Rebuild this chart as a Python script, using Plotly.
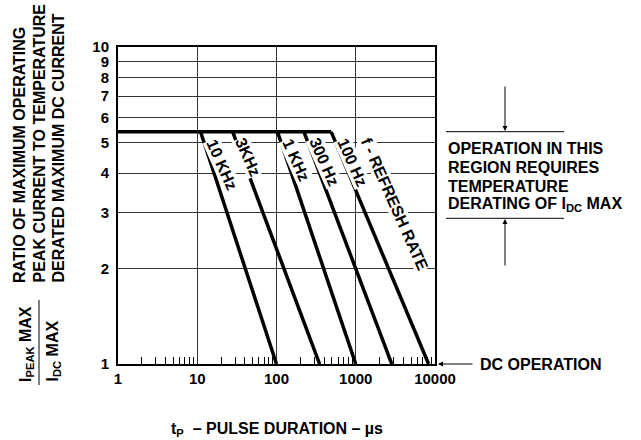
import math
import plotly.graph_objects as go

# ---- data ----
X_TICKS = [1, 10, 100, 1000, 10000]
X_TICK_TEXT = ["1", "10", "100", "1000", "10000"]
Y_TICKS = [1, 2, 3, 4, 5, 6, 7, 8, 9, 10]
Y_TICK_TEXT = ["1", "2", "3", "4", "5", "6", "7", "8", "9", "10"]
MINOR_TICKS = [m * 10 ** d for d in range(4) for m in range(2, 10)]

PLATEAU_RATIO = 5.4
PLATEAU_X = [1, 490]
FREQ_LABELS = ["10 KHz", "3KHz", "1 KHz", "300 Hz", "100 Hz"]
LINE_START_T = [11, 28, 103, 222, 490]      # pulse duration where derating begins (µs)
LINE_END_T = [100, 350, 1000, 2850, 8300]   # pulse duration reaching ratio 1 (µs)
LABEL_T = [20.3, 44.2, 174.6, 398, 906]
LABEL_R = [4.25, 4.49, 4.41, 4.35, 4.32]

FONT = "Liberation Sans, Arial, sans-serif"

# plot area in pixels (for paper-coordinate helpers)
L, R, T, B = 118, 435, 47, 364
W_, H_ = R - L, B - T


def px(x):
    return (x - L) / W_


def py(y):
    return (B - y) / H_


fig = go.Figure()

fig.add_trace(go.Scatter(x=PLATEAU_X, y=[PLATEAU_RATIO, PLATEAU_RATIO], mode="lines",
                         line=dict(color="black", width=3.5), showlegend=False,
                         cliponaxis=False))
for s, e in zip(LINE_START_T, LINE_END_T):
    fig.add_trace(go.Scatter(x=[s, e], y=[PLATEAU_RATIO, 1], mode="lines",
                             line=dict(color="black", width=3.5), showlegend=False))

annotations = []
for lab, xt, yr in zip(FREQ_LABELS, LABEL_T, LABEL_R):
    annotations.append(dict(x=math.log10(xt), y=math.log10(yr), xref="x", yref="y",
                            text=lab, showarrow=False, textangle=66,
                            font=dict(family=FONT, size=16, color="black", weight="bold"),
                            bgcolor="white", borderpad=0))
annotations.append(dict(x=math.log10(3041), y=math.log10(3.2), xref="x", yref="y",
                        text="f - REFRESH RATE", showarrow=False, textangle=66,
                        font=dict(family=FONT, size=16, color="black", weight="bold"),
                        bgcolor="white", borderpad=0))

# right-hand region text
right_lines = ["OPERATION IN THIS", "REGION REQUIRES", "TEMPERATURE",
               "DERATING OF I<sub>DC</sub> MAX"]
right_y = [148, 167, 186, 204]
for t, yy in zip(right_lines, right_y):
    annotations.append(dict(x=px(446), y=py(yy), xref="paper", yref="paper", text=t,
                            showarrow=False, xanchor="left", yanchor="middle",
                            font=dict(family=FONT, size=16, color="black", weight="bold")))

# arrows for region
annotations.append(dict(x=px(505), y=py(131), xref="paper", yref="paper", text="",
                        showarrow=True, ax=0, ay=-46, arrowhead=2, arrowsize=1,
                        arrowwidth=1, arrowcolor="black"))
annotations.append(dict(x=px(505), y=py(219), xref="paper", yref="paper", text="",
                        showarrow=True, ax=0, ay=48, arrowhead=2, arrowsize=1,
                        arrowwidth=1, arrowcolor="black"))

# DC operation
annotations.append(dict(x=px(438), y=py(364), xref="paper", yref="paper", text="",
                        showarrow=True, ax=36, ay=0, arrowhead=2, arrowsize=1,
                        arrowwidth=1, arrowcolor="black"))
annotations.append(dict(x=px(478), y=py(364), xref="paper", yref="paper",
                        text="DC OPERATION", showarrow=False, xanchor="left",
                        yanchor="middle",
                        font=dict(family=FONT, size=16, color="black", weight="bold")))

# x title
annotations.append(dict(x=0.5, y=py(429), xref="paper", yref="paper",
                        text="t<sub>P</sub>  – PULSE DURATION – µs", showarrow=False,
                        xanchor="center", yanchor="middle",
                        font=dict(family=FONT, size=16, color="black", weight="bold")))

# y title (three rotated lines)
ytitle = ["RATIO OF MAXIMUM OPERATING", "PEAK CURRENT TO TEMPERATURE",
          "DERATED MAXIMUM DC CURRENT"]
ytitle_x = [19, 39, 58]
for t, xx in zip(ytitle, ytitle_x):
    annotations.append(dict(x=px(xx), y=py(285), xref="paper", yref="paper", text=t,
                            showarrow=False, textangle=-90, xanchor="center",
                            yanchor="bottom",
                            font=dict(family=FONT, size=16, color="black", weight="bold")))

# fraction
annotations.append(dict(x=px(26), y=py(384), xref="paper", yref="paper",
                        text="I<sub>PEAK</sub> MAX", showarrow=False, textangle=-90,
                        xanchor="center", yanchor="bottom",
                        font=dict(family=FONT, size=16, color="black", weight="bold")))
annotations.append(dict(x=px(53), y=py(384), xref="paper", yref="paper",
                        text="I<sub>DC</sub> MAX", showarrow=False, textangle=-90,
                        xanchor="center", yanchor="bottom",
                        font=dict(family=FONT, size=16, color="black", weight="bold")))

shapes = [
    dict(type="line", xref="paper", yref="paper", x0=px(446), x1=px(564),
         y0=py(131.7), y1=py(131.7), line=dict(color="black", width=1)),
    dict(type="line", xref="paper", yref="paper", x0=px(446), x1=px(564),
         y0=py(218.3), y1=py(218.3), line=dict(color="black", width=1)),
    dict(type="line", xref="paper", yref="paper", x0=px(39), x1=px(39),
         y0=py(300), y1=py(385), line=dict(color="black", width=1)),
]

fig.update_layout(
    width=641, height=440,
    margin=dict(l=L, r=641 - R, t=T, b=440 - B, pad=0),
    paper_bgcolor="white", plot_bgcolor="white",
    showlegend=False,
    annotations=annotations, shapes=shapes,
    xaxis=dict(type="log", range=[0, 4], tickmode="array", tickvals=X_TICKS,
               ticktext=X_TICK_TEXT, ticks="", showgrid=True, gridcolor="#333333",
               gridwidth=1, showline=True, linecolor="black", linewidth=2, mirror=True,
               zeroline=False,
               tickfont=dict(family=FONT, size=15, color="black", weight="bold"),
               minor=dict(tickmode="array", tickvals=MINOR_TICKS, ticks="inside",
                          ticklen=7, tickwidth=1, tickcolor="black", showgrid=False)),
    yaxis=dict(type="log", range=[0, 1], tickmode="array", tickvals=Y_TICKS,
               ticktext=Y_TICK_TEXT, ticks="", showgrid=True, gridcolor="#333333",
               gridwidth=1, showline=True, linecolor="black", linewidth=2, mirror=True,
               zeroline=False, ticklabelstandoff=4,
               tickfont=dict(family=FONT, size=15, color="black", weight="bold")),
)

fig.write_html("out.html", config={"displayModeBar": False},
               post_script="document.body.style.margin='0';document.body.style.padding='0';")
